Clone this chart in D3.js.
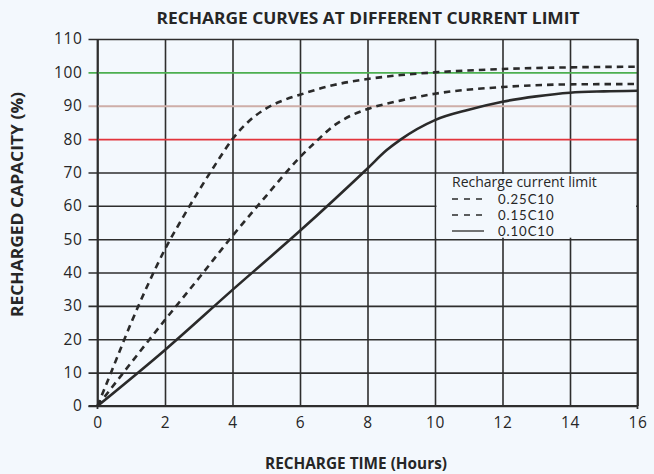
<!DOCTYPE html>
<html>
<head>
<meta charset="utf-8">
<script src="https://cdn.jsdelivr.net/npm/d3@7"></script>
<style>
  html, body { margin: 0; padding: 0; background: #f3f8fd; }
  svg { display: block; }
  text { font-family: "Open Sans", "Noto Sans", sans-serif; fill: #262626; }
</style>
</head>
<body>
<svg id="chart" width="654" height="474"></svg>
<script>
// ---- Data ----
const xTicks = [0, 2, 4, 6, 8, 10, 12, 14, 16];
const yTicks = [0, 10, 20, 30, 40, 50, 60, 70, 80, 90, 100, 110];

const seriesNames = ["0.25C10", "0.15C10", "0.10C10"];

const hours25 = [0, 0.5, 1, 1.5, 2, 2.5, 3, 3.5, 4, 4.5, 5, 5.5, 6, 7, 8, 9, 10, 12, 14, 16];
const cap25   = [0, 12.5, 25, 36.5, 47, 56, 64.5, 72.5, 80, 85.5, 89.2, 91.6, 93.3, 96.2, 98, 99.2, 100, 101, 101.5, 101.7];

const hours15 = [0, 1, 2, 3, 4, 5, 6, 6.5, 7, 7.5, 8, 9, 10, 12, 14, 16];
const cap15   = [0, 13, 25.8, 38.3, 51, 63, 74.6, 79.5, 84, 87, 89, 91.6, 93.6, 95.6, 96.4, 96.5];

const hours10 = [0, 2, 4, 6, 8, 8.57, 9, 10, 11, 12, 13, 14, 15, 16];
const cap10   = [0, 16.8, 34.8, 52.5, 71.2, 76.7, 80, 85.7, 88.8, 91.2, 92.8, 93.9, 94.3, 94.5];

const refLines = [
  {v: 80, color: "#e2343c"},
  {v: 90, color: "#ceaea8"},
  {v: 100, color: "#4caf50"}
];

// ---- Layout ----
const svg = d3.select("#chart");
const mLeft = 97.5, mRight = 637.5, mTop = 39, mBottom = 406;
const tickLen = 9;

const x = d3.scaleLinear().domain([0, 16]).range([mLeft, mRight]);
const y = d3.scaleLinear().domain([0, 110]).range([mBottom, mTop]);

const gridColor = "#2e2e2e";
const refColor = v => { const r = refLines.find(d => d.v === v); return r ? r.color : gridColor; };

// Title
svg.append("text")
  .attr("x", 368).attr("y", 23.5)
  .attr("text-anchor", "middle")
  .attr("textLength", 423).attr("lengthAdjust", "spacingAndGlyphs")
  .style("font-weight", "bold").style("font-size", "16px")
  .text("RECHARGE CURVES AT DIFFERENT CURRENT LIMIT");

// Vertical grid + x axis labels
const xAxis = d3.axisBottom(x).tickValues(xTicks).tickSize(-(mBottom - mTop)).tickPadding(11).tickSizeOuter(0);
const gx = svg.append("g").attr("transform", `translate(0,${mBottom})`).call(xAxis);
gx.select(".domain").remove();
gx.selectAll(".tick line").attr("stroke", gridColor).attr("stroke-width", 1.6);
gx.selectAll(".tick text").style("font-size", "15.5px").style("letter-spacing", "0.6px")
  .style("font-family", "'Open Sans', sans-serif").attr("fill", "#262626");

// Horizontal grid + y axis labels (with ticks on the left)
const yAxis = d3.axisLeft(y).tickValues(yTicks).tickSize(-(mRight - mLeft + tickLen)).tickPadding(6).tickSizeOuter(0);
const gy = svg.append("g").attr("transform", `translate(${mLeft - tickLen},0)`).call(yAxis);
gy.select(".domain").remove();
gy.selectAll(".tick line")
  .attr("stroke", d => refColor(d))
  .attr("stroke-width", d => refLines.find(r => r.v === d) ? 1.8 : 1.6);
gy.selectAll(".tick text").style("font-size", "15.5px").style("letter-spacing", "0.6px")
  .style("font-family", "'Open Sans', sans-serif").attr("fill", "#262626");

// Frame lines (left axis, right border) extending slightly below
svg.append("line").attr("x1", x(0)).attr("x2", x(0)).attr("y1", y(110)).attr("y2", y(0) + 3)
  .attr("stroke", gridColor).attr("stroke-width", 1.8);
svg.append("line").attr("x1", x(16)).attr("x2", x(16)).attr("y1", y(110)).attr("y2", y(0) + 3)
  .attr("stroke", gridColor).attr("stroke-width", 1.8);
svg.append("line").attr("x1", mLeft - tickLen).attr("x2", x(16)).attr("y1", y(0)).attr("y2", y(0))
  .attr("stroke", gridColor).attr("stroke-width", 1.8);

// Legend background (covers grid cell 10-16h, 50-70%)
const lg = svg.append("g");
lg.append("rect")
  .attr("x", x(10) + 1.5).attr("y", y(70) + 1.5)
  .attr("width", x(16) - x(10) - 3).attr("height", y(50) - y(70) - 3)
  .attr("fill", "#f3f8fd");

// Curves
const line = d3.line().x(d => x(d[0])).y(d => y(d[1])).curve(d3.curveMonotoneX);
const series = [
  {name: seriesNames[0], pts: d3.zip(hours25, cap25), dash: "6.5,5"},
  {name: seriesNames[1], pts: d3.zip(hours15, cap15), dash: "6.5,5"},
  {name: seriesNames[2], pts: d3.zip(hours10, cap10), dash: null}
];
svg.append("g").selectAll("path").data(series).join("path")
  .attr("d", d => line(d.pts))
  .attr("fill", "none")
  .attr("stroke", "#2a2a2a")
  .attr("stroke-width", 2.6)
  .attr("stroke-dasharray", d => d.dash);

// Legend
lg.append("text").attr("x", 452).attr("y", 186.5)
  .style("font-size", "14px").text("Recharge current limit");
const items = lg.selectAll(".item").data(series).join("g").attr("class", "item")
  .attr("transform", (d, i) => `translate(0,${199 + i * 16})`);
items.append("line").attr("x1", 452).attr("x2", 484).attr("y1", 0).attr("y2", 0)
  .attr("stroke", "#2a2a2a").attr("stroke-width", 1.3)
  .attr("stroke-dasharray", d => d.dash ? "6,6" : null);
items.append("text").attr("x", 498).attr("y", 4.8)
  .style("font-family", "Lato, 'Open Sans', sans-serif")
  .style("font-size", "13.2px").style("letter-spacing", "0.9px").text(d => d.name);

// Axis titles
svg.append("text")
  .attr("x", 356).attr("y", 469)
  .attr("text-anchor", "middle")
  .attr("textLength", 182).attr("lengthAdjust", "spacingAndGlyphs")
  .style("font-weight", "bold").style("font-size", "16px")
  .text("RECHARGE TIME (Hours)");
svg.append("text")
  .attr("transform", "translate(23,204.5) rotate(-90)")
  .attr("text-anchor", "middle")
  .attr("textLength", 225).attr("lengthAdjust", "spacingAndGlyphs")
  .style("font-weight", "bold").style("font-size", "16px")
  .text("RECHARGED CAPACITY (%)");
</script>
</body>
</html>
